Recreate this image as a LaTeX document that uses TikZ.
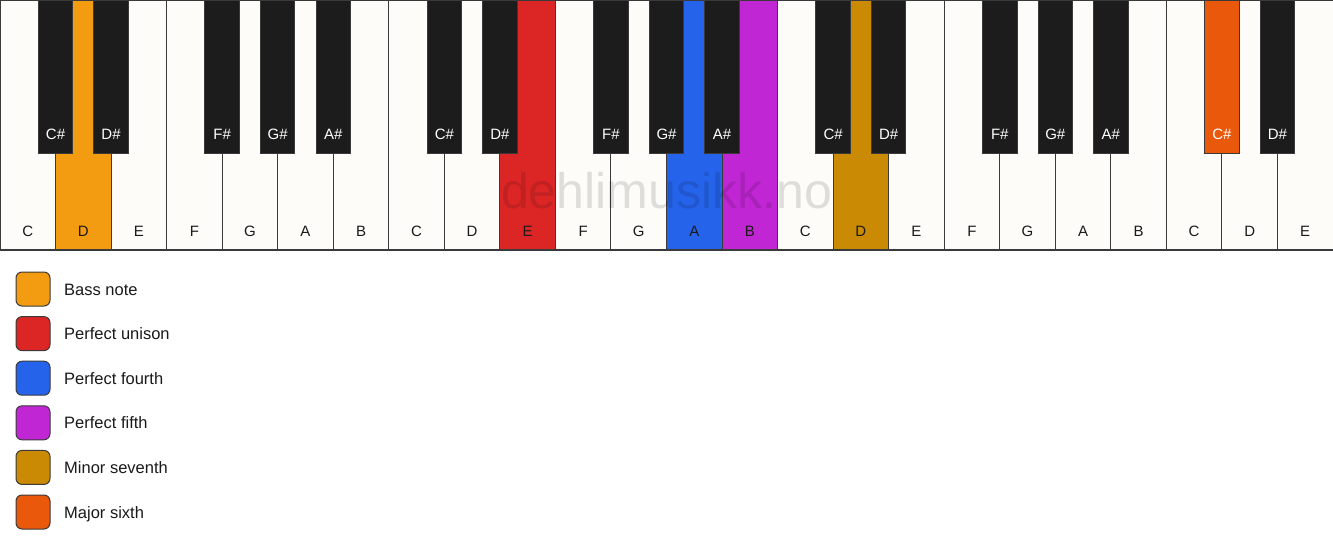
\documentclass[tikz,border=0pt]{standalone}
\usepackage{fontspec}
\setmainfont{Liberation Sans}
\definecolor{keywhite}{HTML}{FDFCF9}
\definecolor{keyblack}{HTML}{1C1C1C}
\definecolor{keyline}{HTML}{3A3A3A}
\definecolor{cbass}{HTML}{F39C12}
\definecolor{cunison}{HTML}{DC2626}
\definecolor{cfourth}{HTML}{2563EB}
\definecolor{cfifth}{HTML}{C026D3}
\definecolor{cseventh}{HTML}{CA8A04}
\definecolor{csixth}{HTML}{EA580C}
\definecolor{ctext}{HTML}{1A1A1A}
\tikzset{
  whitekey/.style={draw=keyline, line width=1pt, fill=keywhite, anchor=north west,
    minimum width=55.5417pt, minimum height=250pt, inner sep=0pt, outer sep=0pt},
  blackkey/.style={draw=keyline, line width=1pt, fill=keyblack, anchor=north,
    minimum width=34.5pt, minimum height=153pt, inner sep=0pt, outer sep=0pt},
  wlabel/.style={anchor=base, font=\fontsize{15}{18}\selectfont, text=ctext, inner sep=0pt},
  blabel/.style={anchor=base, font=\fontsize{15}{18}\selectfont, text=white, inner sep=0pt},
  legbox/.style={draw=keyline, line width=1pt, rounded corners=6pt, minimum width=34pt,
    minimum height=34pt, inner sep=0pt, anchor=center},
  legtext/.style={anchor=base west, font=\fontsize{16.5}{20}\selectfont, text=ctext, inner sep=0pt},
  watermark/.style={anchor=base, font=\fontsize{50}{60}\selectfont, text=black,
    text opacity=0.12, inner sep=0pt}
}
\begin{document}
\begin{tikzpicture}[x=1pt,y=-1pt]
\useasboundingbox (0,0) rectangle (1333,550);
\fill[white] (0,0) rectangle (1333,550);
% white keys
\foreach \i/\n/\c in {0/C/keywhite,1/D/cbass,2/E/keywhite,3/F/keywhite,4/G/keywhite,5/A/keywhite,6/B/keywhite,
  7/C/keywhite,8/D/keywhite,9/E/cunison,10/F/keywhite,11/G/keywhite,12/A/cfourth,13/B/cfifth,
  14/C/keywhite,15/D/cseventh,16/E/keywhite,17/F/keywhite,18/G/keywhite,19/A/keywhite,20/B/keywhite,
  21/C/keywhite,22/D/keywhite,23/E/keywhite}{
  \node[whitekey, fill=\c] (w\i) at (\i*55.5417,0) {};
  \node[wlabel] (wl\i) at ([yshift=14pt]w\i.south) {\n};
}
% black keys
\foreach \j/\n/\c in {1/C\#/keyblack,2/D\#/keyblack,4/F\#/keyblack,5/G\#/keyblack,6/A\#/keyblack,
  8/C\#/keyblack,9/D\#/keyblack,11/F\#/keyblack,12/G\#/keyblack,13/A\#/keyblack,
  15/C\#/keyblack,16/D\#/keyblack,18/F\#/keyblack,19/G\#/keyblack,20/A\#/keyblack,
  22/C\#/csixth,23/D\#/keyblack}{
  \node[blackkey, fill=\c] (b\j) at (\j*55.5417,0) {};
  \node[blabel] (bl\j) at ([yshift=14pt]b\j.south) {\n};
}
% bottom edge
\draw[draw=keyline, line width=2pt] (w0.south west) -- (w23.south east);
% watermark
\node[watermark] (wm) at (666.5,208) {dehlimusikk.no};
% legend
\foreach \k/\c/\t in {0/cbass/Bass note,1/cunison/Perfect unison,2/cfourth/Perfect fourth,
  3/cfifth/Perfect fifth,4/cseventh/Minor seventh,5/csixth/Major sixth}{
  \node[legbox, fill=\c] (lb\k) at (33,289+\k*44.6) {};
  \node[legtext] (lt\k) at (64,295+\k*44.6) {\t};
}
\end{tikzpicture}
\end{document}
